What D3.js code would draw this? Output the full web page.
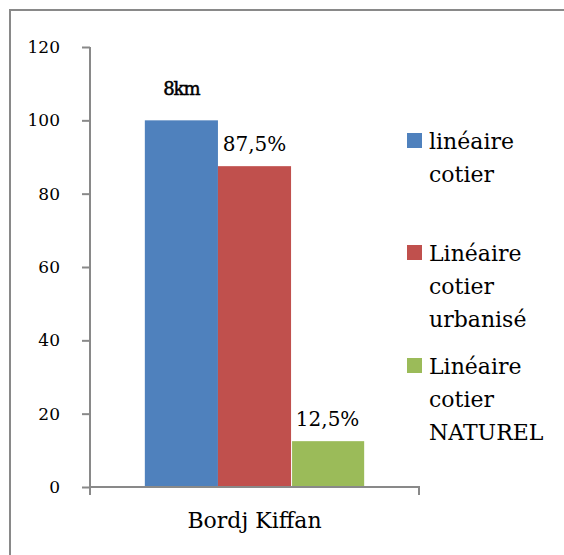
<!DOCTYPE html>
<html>
<head>
<meta charset="utf-8">
<script src="https://cdn.jsdelivr.net/npm/d3@7"></script>
<style>
  body { margin: 0; background: #fff; }
  svg text { font-family: "DejaVu Serif", serif !important; fill: #000; }
</style>
</head>
<body>
<div id="chart"></div>
<script>
// data
const categories = ["Bordj Kiffan"];
const seriesNames = [["linéaire", "cotier"], ["Linéaire", "cotier", "urbanisé"], ["Linéaire", "cotier", "NATUREL"]];
const seriesValues = [100, 87.5, 12.5];
const barLabels = ["8km", "87,5%", "12,5%"];
const colors = ["#4f81bd", "#c0504d", "#9bbb59"];
const yTicks = [0, 20, 40, 60, 80, 100, 120];

const width = 564, height = 555;

const svg = d3.select("#chart").append("svg")
  .attr("width", width)
  .attr("height", height);

// outer frame (runs off the right and bottom edge)
svg.append("rect")
  .attr("x", 10).attr("y", 10)
  .attr("width", 600).attr("height", 600)
  .attr("fill", "none")
  .attr("stroke", "#898989")
  .attr("stroke-width", 2);

const x0 = d3.scaleBand().domain(categories).range([90, 419]);
const y = d3.scaleLinear().domain([0, 120]).range([487, 47]);

// bars in the group, gap width 150% (Excel default)
const groupW = x0.bandwidth();
const barW = groupW / (seriesValues.length + 1.5);
const groupStart = x0(categories[0]) + (groupW - barW * seriesValues.length) / 2;

const axisColor = "#898989";

// y axis
const yAxis = svg.append("g")
  .attr("transform", "translate(90,0)")
  .call(d3.axisLeft(y).tickValues(yTicks).tickSize(8).tickPadding(22).tickFormat(d3.format("d")));
yAxis.select(".domain").attr("stroke", axisColor).attr("stroke-width", 2).attr("d", "M0," + y(120) + "V" + y(0));
yAxis.selectAll(".tick line").attr("stroke", axisColor).attr("stroke-width", 2);
yAxis.selectAll(".tick text").attr("font-size", 17);

const g = svg.append("g");
seriesValues.forEach((v, i) => {
  const bx = groupStart + i * barW;
  g.append("rect")
    .attr("x", bx + (i === 2 ? 1 : 0))
    .attr("y", y(v))
    .attr("width", barW - (i === 2 ? 1 : 0))
    .attr("height", y(0) - y(v))
    .attr("fill", colors[i]);
});

// data labels
const lblDy = [-25, -15, -15];
seriesValues.forEach((v, i) => {
  const cx = groupStart + (i + 0.5) * barW;
  svg.append("text")
    .attr("x", cx)
    .attr("y", y(v) + lblDy[i])
    .attr("text-anchor", "middle")
    .attr("font-size", i === 0 ? 18 : 20)
    .attr("letter-spacing", i === 0 ? -1 : 0)
    .attr("stroke", i === 0 ? "#000" : "none")
    .attr("stroke-width", i === 0 ? 0.5 : 0)
    .text(barLabels[i]);
});

// x axis
const xAxis = svg.append("g")
  .attr("transform", "translate(0," + y(0) + ")")
  .call(d3.axisBottom(x0).tickSize(0).tickPadding(25));
xAxis.select(".domain").attr("stroke", axisColor).attr("stroke-width", 2)
  .attr("d", "M90,8V0H419V8");
xAxis.selectAll(".tick text").attr("font-size", 22).attr("dy", "0.71em");

// legend
const legendTops = [149, 261, 374];
seriesNames.forEach((lines, i) => {
  svg.append("rect")
    .attr("x", 407).attr("y", legendTops[i] - 16)
    .attr("width", 15).attr("height", 15)
    .attr("fill", colors[i]);
  const t = svg.append("text").attr("font-size", 22);
  lines.forEach((ln, j) => {
    t.append("tspan").attr("x", 429).attr("y", legendTops[i] + j * 33).text(ln);
  });
});
</script>
</body>
</html>
